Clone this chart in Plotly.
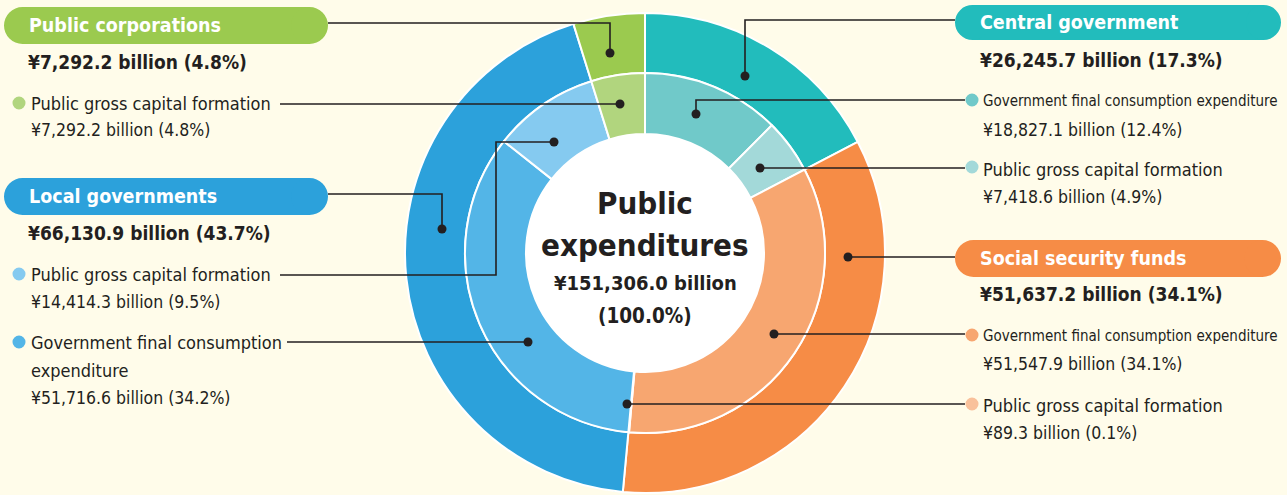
import plotly.graph_objects as go

# sectors (outer ring), clockwise from 12 o'clock
sectors = ["Central government", "Social security funds", "Local governments", "Public corporations"]
sector_values = [26245.7, 51637.2, 66130.9, 7292.2]
sector_shares = [17.3, 34.1, 43.7, 4.8]

# components (inner ring)
comp_sector = ["Central government", "Central government", "Social security funds", "Social security funds",
               "Local governments", "Local governments", "Public corporations"]
comp_names = ["Government final consumption expenditure", "Public gross capital formation",
              "Government final consumption expenditure", "Public gross capital formation",
              "Government final consumption expenditure", "Public gross capital formation",
              "Public gross capital formation"]
comp_values = [18827.1, 7418.6, 51547.9, 89.3, 51716.6, 14414.3, 7292.2]
comp_shares = [12.4, 4.9, 34.1, 0.1, 34.2, 9.5, 4.8]

total_value = 151306.0
total_share = 100.0

# colours
sector_colors = ["#22bcbc", "#f68c46", "#2ca1db", "#9bca4f"]
comp_colors = ["#70c9c9", "#a3d9d9", "#f7a670", "#f9c19b", "#53b5e7", "#85caf0", "#b1d57e"]
BG = "#fffcea"
INK = "#231f20"
FONT = "DejaVu Sans Condensed, DejaVu Sans, sans-serif"

W, H = 1287, 495
cx, cy = 645, 253
r_out, r_mid, r_in = 240, 180, 119


def dom(r):
    return dict(x=[(cx - r) / W, (cx + r) / W], y=[(H - cy - r) / H, (H - cy + r) / H])


def fmt(v, s):
    return f"¥{v:,.1f} billion ({s:.1f}%)"


fig = go.Figure()
# invisible trace so the pixel-sized x/y axes exist for shapes and annotations
fig.add_trace(go.Scatter(x=[0, W], y=[0, H], mode="markers", marker=dict(opacity=0),
                         hoverinfo="skip", showlegend=False))
fig.add_trace(go.Pie(values=sector_values, labels=sectors, sort=False, direction="clockwise",
                     hole=r_mid / r_out, domain=dom(r_out), textinfo="none", hoverinfo="skip",
                     marker=dict(colors=sector_colors, line=dict(color="white", width=2)),
                     showlegend=False))
fig.add_trace(go.Pie(values=comp_values, labels=[f"{a} - {b}" for a, b in zip(comp_sector, comp_names)],
                     sort=False, direction="clockwise",
                     hole=r_in / r_mid, domain=dom(r_mid), textinfo="none", hoverinfo="skip",
                     marker=dict(colors=comp_colors, line=dict(color="white", width=2)),
                     showlegend=False))

shapes = []
annotations = []

# white centre
shapes.append(dict(type="circle", x0=cx - r_in, x1=cx + r_in, y0=cy - r_in, y1=cy + r_in,
                   fillcolor="white", line=dict(width=0), layer="below"))


def pill(x0, x1, y0, y1, color, text):
    r = (y1 - y0) / 2
    shapes.append(dict(type="rect", x0=x0 + r, x1=x1 - r, y0=y0, y1=y1, fillcolor=color,
                       line=dict(width=0), layer="above"))
    for xc in (x0 + r, x1 - r):
        shapes.append(dict(type="circle", x0=xc - r, x1=xc + r, y0=y0, y1=y1, fillcolor=color,
                           line=dict(width=0), layer="above"))
    annotations.append(dict(x=x0 + 23, y=(y0 + y1) / 2, text=text, xanchor="left", yanchor="middle",
                            showarrow=False, font=dict(family=FONT, size=19.5, color="white", weight="bold")))


def text(x, y, t, size, bold=False):
    annotations.append(dict(x=x, y=y, text=t, xanchor="left", yanchor="middle", showarrow=False,
                            font=dict(family=FONT, size=size, color=INK, weight="bold" if bold else "normal")))


def dot(x, y, r, color):
    shapes.append(dict(type="circle", x0=x - r, x1=x + r, y0=y - r, y1=y + r, fillcolor=color,
                       line=dict(width=0), layer="above"))


def leader(points):
    path = "M " + " L ".join(f"{x},{y}" for x, y in points)
    shapes.append(dict(type="path", path=path, line=dict(color=INK, width=1.6), layer="above"))
    dot(points[-1][0], points[-1][1], 4.5, INK)


LAB, VAL, BOLD = 18, 17.5, 19

# ---- left side ----
pill(4, 328, 7, 44, sector_colors[3], sectors[3])
text(26, 62, fmt(sector_values[3], sector_shares[3]), BOLD, bold=True)
leader([(328, 23), (610, 23), (610, 53)])
dot(19, 103, 6.5, comp_colors[6])
text(29, 103, comp_names[6], LAB)
text(29, 130, fmt(comp_values[6], comp_shares[6]), VAL)
leader([(280, 104), (620, 104)])

pill(4, 328, 178, 215, sector_colors[2], sectors[2])
text(26, 233, fmt(sector_values[2], sector_shares[2]), BOLD, bold=True)
leader([(328, 194), (442, 194), (442, 229)])
dot(19, 274, 6.5, comp_colors[5])
text(29, 274, comp_names[5], LAB)
text(29, 302, fmt(comp_values[5], comp_shares[5]), VAL)
leader([(280, 275), (496, 275), (496, 142), (554, 142)])
dot(19, 342, 6.5, comp_colors[4])
text(29, 342, "Government final consumption", LAB)
text(29, 370, "expenditure", LAB)
text(29, 398, fmt(comp_values[4], comp_shares[4]), VAL)
leader([(287, 342), (528, 342)])

# ---- right side ----
pill(955, 1281, 5, 40, sector_colors[0], sectors[0])
text(978, 60, fmt(sector_values[0], sector_shares[0]), BOLD, bold=True)
leader([(955, 20), (745, 20), (745, 76)])
leader([(965, 100), (696, 100), (696, 114)])
dot(972, 100, 6.5, comp_colors[0])
text(981, 101, comp_names[0], 15)
text(981, 130, fmt(comp_values[0], comp_shares[0]), VAL)
leader([(965, 168), (760, 168)])
dot(972, 167, 6.5, comp_colors[1])
text(981, 169, comp_names[1], LAB)
text(981, 197, fmt(comp_values[1], comp_shares[1]), VAL)

pill(955, 1281, 240, 277, sector_colors[1], sectors[1])
text(978, 294, fmt(sector_values[1], sector_shares[1]), BOLD, bold=True)
leader([(955, 257), (848, 257)])
leader([(965, 334), (774, 334)])
dot(972, 335, 6.5, comp_colors[2])
text(981, 336, comp_names[2], 15)
text(981, 364, fmt(comp_values[2], comp_shares[2]), VAL)
leader([(965, 404), (627, 404)])
dot(972, 404, 6.5, comp_colors[3])
text(981, 405, comp_names[3], LAB)
text(981, 433, fmt(comp_values[3], comp_shares[3]), VAL)

# ---- centre ----
annotations.append(dict(x=cx, y=203, text="Public", showarrow=False, xanchor="center", yanchor="middle",
                        font=dict(family=FONT, size=31, color=INK, weight="bold")))
annotations.append(dict(x=cx, y=245, text="expenditures", showarrow=False, xanchor="center", yanchor="middle",
                        font=dict(family=FONT, size=31, color=INK, weight="bold")))
annotations.append(dict(x=cx, y=283, text=f"¥{total_value:,.1f} billion", showarrow=False,
                        xanchor="center", yanchor="middle",
                        font=dict(family=FONT, size=20, color=INK, weight="bold")))
annotations.append(dict(x=cx, y=316, text=f"({total_share:.1f}%)", showarrow=False,
                        xanchor="center", yanchor="middle",
                        font=dict(family=FONT, size=20.5, color=INK, weight="bold")))

fig.update_layout(
    width=W, height=H, margin=dict(l=0, r=0, t=0, b=0),
    paper_bgcolor=BG, plot_bgcolor="rgba(0,0,0,0)",
    xaxis=dict(range=[0, W], visible=False, fixedrange=True),
    yaxis=dict(range=[H, 0], visible=False, fixedrange=True),
    shapes=shapes, annotations=annotations, showlegend=False,
)

fig.write_html("out.html", config={"displayModeBar": False},
               post_script="document.body.style.margin='0';")
